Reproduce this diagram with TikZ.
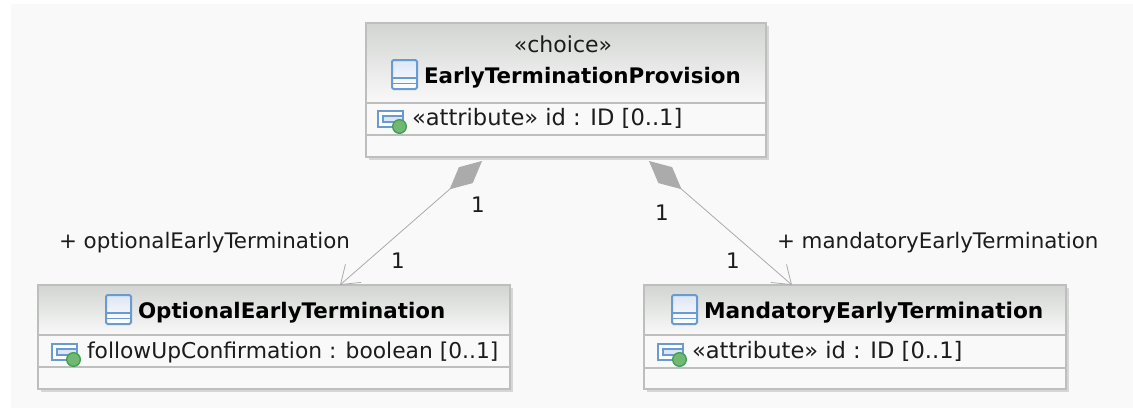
\documentclass[tikz,border=0pt]{standalone}
\usepackage{fontspec}
\setmainfont{DejaVu Sans}
\usetikzlibrary{arrows.meta}
\definecolor{bgc}{HTML}{F9F9F9}
\definecolor{edgec}{HTML}{BDBFBD}
\definecolor{shadowc}{HTML}{D6D6D6}
\definecolor{linec}{HTML}{ABABAB}
\definecolor{iconb}{HTML}{6A9BD0}
\definecolor{icont}{HTML}{DDE5F5}
\definecolor{txtc}{HTML}{1C1C1C}
\definecolor{hdtop}{HTML}{D2D5D2}
\definecolor{ballc}{HTML}{72B872}
\definecolor{ballr}{HTML}{43A05A}
\tikzset{
  x=1pt,y=-1pt,
  boxbody/.style={draw=edgec,line width=1.4pt,fill=bgc,anchor=north west,inner sep=0,outer sep=0},
  shadowbox/.style={fill=shadowc,anchor=north west,inner sep=0,outer sep=0},
  headbox/.style={top color=hdtop,bottom color=bgc,anchor=north west,inner sep=0,outer sep=0},
  sep/.style={draw=edgec,line width=1.3pt},
  lbl/.style={anchor=base west,inner sep=0,outer sep=0,text=txtc,font=\fontsize{21.4}{24}\selectfont},
  attrlbl/.style={lbl,font=\fontsize{22.6}{24}\selectfont},
  titlelbl/.style={anchor=base west,inner sep=0,outer sep=0,text=black,font=\fontsize{21.4}{24}\selectfont\bfseries},
  assoc/.style={draw=linec,line width=0.8pt},
  pics/classicon/.style={code={
    \draw[iconb,line width=2pt,rounded corners=1.5pt,top color=icont,bottom color=white] (0,0) rectangle (25,29);
    \draw[iconb,line width=1.5pt] (0,18) -- (25,18) (0,23.5) -- (25,23.5);
  }},
  pics/attricon/.style={code={
    \draw[iconb,line width=2pt,fill=white] (0,0) rectangle (25,16);
    \draw[iconb,line width=1.6pt,fill=icont] (5,5) rectangle (25,11);
    \draw[ballr,fill=ballc,line width=1.4pt] (21.5,15.5) circle (6.8);
  }},
}
\begin{document}
\begin{tikzpicture}
\useasboundingbox (0,0) rectangle (1133,408);
\fill[white] (0,0) rectangle (1133,408);
\fill[bgc] (11,4) rectangle (1133,408);
% shadows
\node[shadowbox,minimum width=400,minimum height=134] (tops) at (368.5,25.5) {};
\node[shadowbox,minimum width=472,minimum height=104] (lefts) at (40.5,287.5) {};
\node[shadowbox,minimum width=422,minimum height=104] (rights) at (646.5,287.5) {};
% top class
\node[boxbody,minimum width=400,minimum height=134] (top) at (366,23) {};
\node[headbox,minimum width=399,minimum height=80] (toph) at (366.5,23.5) {};
\draw[sep] (366,103) -- (766,103);
\draw[sep] (366,135) -- (766,135);
\draw[edgec,line width=1.4pt] (366,23) rectangle (766,157);
\node[anchor=base,inner sep=0,text=txtc,font=\fontsize{22}{24}\selectfont] (stereo) at (563,52) {«choice»};
\pic at (392,60) {classicon};
\node[titlelbl] (toptitle) at (424,83) {EarlyTerminationProvision};
\pic at (378,111) {attricon};
\node[attrlbl] (topattr) at (412,125) {«attribute» id : ID [0..1]};
% left class
\node[boxbody,minimum width=472,minimum height=104] (left) at (38,285) {};
\node[headbox,minimum width=471,minimum height=50] (lefth) at (38.5,285.5) {};
\draw[sep] (38,335) -- (510,335);
\draw[sep] (38,367) -- (510,367);
\draw[edgec,line width=1.4pt] (38,285) rectangle (510,389);
\pic at (106,295) {classicon};
\node[titlelbl] (lefttitle) at (138,318) {OptionalEarlyTermination};
\pic at (52,344) {attricon};
\node[lbl,font=\fontsize{21.8}{24}\selectfont] (leftattr) at (87,358) {followUpConfirmation : boolean [0..1]};
% right class
\node[boxbody,minimum width=422,minimum height=104] (right) at (644,285) {};
\node[headbox,minimum width=421,minimum height=50] (righth) at (644.5,285.5) {};
\draw[sep] (644,335) -- (1066,335);
\draw[sep] (644,368) -- (1066,368);
\draw[edgec,line width=1.4pt] (644,285) rectangle (1066,389);
\pic at (672,295) {classicon};
\node[titlelbl,font=\fontsize{21.7}{24}\selectfont\bfseries] (righttitle) at (704,318) {MandatoryEarlyTermination};
\pic at (658,344) {attricon};
\node[attrlbl] (rightattr) at (692,358) {«attribute» id : ID [0..1]};
% connectors
\coordinate (ls) at (482,161);
\coordinate (le) at (340,285);
\coordinate (rs) at (649,161);
\coordinate (re) at (792,285);
\draw[assoc,{Diamond[length=43pt,width=21pt,fill=linec,color=linec,sep=0pt]}-{Straight Barb[length=17pt,width=24pt,color=linec]}] (ls) -- (le);
\draw[assoc,{Diamond[length=43pt,width=21pt,fill=linec,color=linec,sep=0pt]}-{Straight Barb[length=17pt,width=24pt,color=linec]}] (rs) -- (re);
% labels
\node[lbl] (lrole) at (59,248) {+ optionalEarlyTermination};
\node[lbl] (rrole) at (777,248) {+ mandatoryEarlyTermination};
\node[lbl] (m1) at (471,212) {1};
\node[lbl] (m2) at (391,268) {1};
\node[lbl] (m3) at (655,220) {1};
\node[lbl] (m4) at (726,268) {1};
\end{tikzpicture}
\end{document}
